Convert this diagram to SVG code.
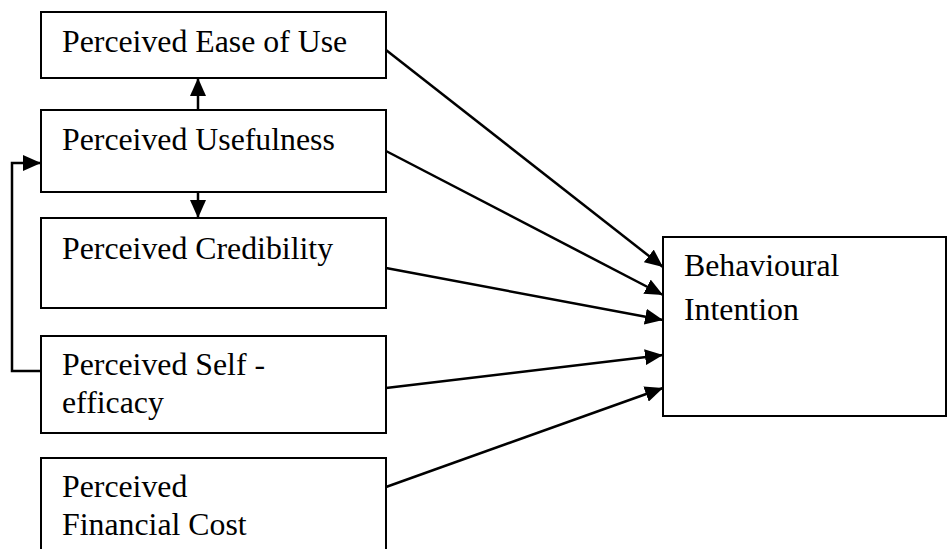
<svg xmlns="http://www.w3.org/2000/svg" width="948" height="549" viewBox="0 0 948 549">
<style>
.box{fill:#fff;stroke:#000;stroke-width:2}
.lbl{font-family:"Liberation Serif","Times New Roman",serif;font-size:31.8px;fill:#000}
.con{fill:none;stroke:#000;stroke-width:2.5}
</style>
<defs>
<marker id="ah" viewBox="0 0 18 16" refX="18" refY="8" markerWidth="18" markerHeight="16" markerUnits="userSpaceOnUse" orient="auto">
<path d="M0,0 L18,8 L0,16 Z" fill="#000"/>
</marker>
</defs>
<rect width="948" height="549" fill="#fff"/>
<g id="peou"><rect class="box" x="41" y="12" width="345" height="66"/><text class="lbl" x="62" y="52">Perceived Ease of Use</text></g>
<g id="pu"><rect class="box" x="41" y="110" width="345" height="82"/><text class="lbl" x="62" y="150">Perceived Usefulness</text></g>
<g id="pc"><rect class="box" x="41" y="218" width="345" height="90"/><text class="lbl" x="62" y="259">Perceived Credibility</text></g>
<g id="pse"><rect class="box" x="41" y="336" width="345" height="97"/><text class="lbl" x="62" y="375">Perceived Self -</text><text class="lbl" x="62" y="413">efficacy</text></g>
<g id="pfc"><rect class="box" x="41" y="458" width="345" height="100"/><text class="lbl" x="62" y="497">Perceived</text><text class="lbl" x="62" y="535">Financial Cost</text></g>
<g id="bi"><rect class="box" x="663" y="237" width="283" height="179"/><text class="lbl" x="684" y="276">Behavioural</text><text class="lbl" x="684" y="320">Intention</text></g>
<g id="connectors">
<line class="con" x1="198" y1="110" x2="198" y2="78" marker-end="url(#ah)"/>
<line class="con" x1="198" y1="192" x2="198" y2="218" marker-end="url(#ah)"/>
<polyline class="con" points="41,371 12,371 12,163 41,163" marker-end="url(#ah)"/>
<line class="con" x1="386" y1="50" x2="663" y2="267" marker-end="url(#ah)"/>
<line class="con" x1="386" y1="151" x2="663" y2="295" marker-end="url(#ah)"/>
<line class="con" x1="386" y1="268" x2="663" y2="320" marker-end="url(#ah)"/>
<line class="con" x1="386" y1="388" x2="663" y2="355" marker-end="url(#ah)"/>
<line class="con" x1="386" y1="487" x2="663" y2="388" marker-end="url(#ah)"/>
</g>
</svg>
